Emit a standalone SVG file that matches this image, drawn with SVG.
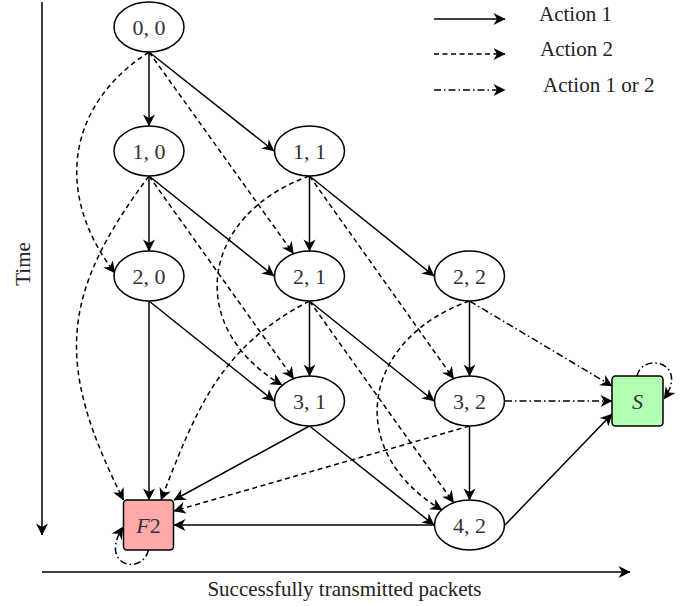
<svg xmlns="http://www.w3.org/2000/svg" width="699" height="606" viewBox="0 0 699 606">
<style>
.n{fill:#fff;stroke:#000;stroke-width:1.5}
.t{font-family:"Liberation Serif","Times New Roman",serif;font-size:22px;fill:#333;text-anchor:middle}
.lbl{font-family:"Liberation Serif","Times New Roman",serif;font-size:21px;fill:#222}
.e{fill:none;stroke:#000;stroke-width:1.5}
.d{stroke-dasharray:5,3.5}
.dd{stroke-dasharray:7,3,1.5,3}
.a{marker-end:url(#ah)}
</style>
<defs>
<marker id="ah" markerUnits="userSpaceOnUse" viewBox="-13 -7 15 14" refX="0" refY="0" markerWidth="15" markerHeight="14" orient="auto">
<path d="M0.5,0 L-11.5,-6 L-8,0 L-11.5,6 Z" fill="#000" stroke="none"/>
</marker>
</defs>
<rect width="699" height="606" fill="#fff"/>

<g id="axes">
<path class="e a" d="M42,2 L42,535"/>
<path class="e a" d="M42,572 L630,572"/>
<text class="lbl" text-anchor="middle" transform="translate(30,264) rotate(-90)">Time</text>
<text class="lbl" x="344.5" y="596" text-anchor="middle" font-size="21.5">Successfully transmitted packets</text>
</g>

<g id="legend">
<path class="e a" d="M434,19 L505,19"/>
<path class="e d a" d="M434,54 L505,54"/>
<path class="e dd a" d="M434,90 L505,90"/>
<text class="lbl" x="539" y="21">Action 1</text>
<text class="lbl" x="540" y="56">Action 2</text>
<text class="lbl" x="543" y="92">Action 1 or 2</text>
</g>

<g id="connectors">
<!-- Action 1 -->
<path class="e a" d="M149,52 L149,126"/>
<path class="e a" d="M149,52 L274,151"/>
<path class="e a" d="M149,176 L149,251"/>
<path class="e a" d="M149,176 L274,276"/>
<path class="e a" d="M309.5,176 L309.5,251"/>
<path class="e a" d="M309.5,176 L434,276"/>
<path class="e a" d="M149,301 L149,500"/>
<path class="e a" d="M149,301 L274,401"/>
<path class="e a" d="M309.5,301 L309.5,376"/>
<path class="e a" d="M309.5,301 L434,401"/>
<path class="e a" d="M469.5,301 L469.5,376"/>
<path class="e a" d="M309.5,426 L174,500"/>
<path class="e a" d="M309.5,426 L434,525"/>
<path class="e a" d="M469.5,426 L469.5,500"/>
<path class="e a" d="M434,525 L174,525"/>
<path class="e a" d="M505,525 L612,414"/>
<!-- Action 2 -->
<path class="e d a" d="M149,52 C65,106 55,196 115,273"/>
<path class="e d a" d="M149,52 L293.5,253.7"/>
<path class="e d a" d="M149,176 C59,296 55.5,365 123.5,500"/>
<path class="e d a" d="M149,176 L293.6,378.7"/>
<path class="e d a" d="M309.5,176 C201.4,214 183,326.4 282,385"/>
<path class="e d a" d="M309.5,176 L453.6,378.7"/>
<path class="e d a" d="M309.5,301 C220.5,347 197,407 161,500"/>
<path class="e d a" d="M309.5,301 L453.6,502.7"/>
<path class="e d a" d="M469.5,301 C361.4,339 343,451.4 442,510"/>
<path class="e d a" d="M469.5,426 L174,511"/>
<!-- Action 1 or 2 -->
<path class="e dd a" d="M469.5,301 L612,386"/>
<path class="e dd a" d="M505,401 L612,401"/>
<path class="e dd a" d="M637,376 C642,352 690,362 664,399"/>
<path class="e dd a" d="M148.5,550 C142,576 98,566 123,527"/>
</g>

<g id="n00"><ellipse class="n" cx="149" cy="27" rx="35" ry="25"/><text class="t" x="149" y="34.5">0, 0</text></g>
<g id="n10"><ellipse class="n" cx="149" cy="151" rx="35" ry="25"/><text class="t" x="149" y="158.5">1, 0</text></g>
<g id="n11"><ellipse class="n" cx="309.5" cy="151" rx="35" ry="25"/><text class="t" x="309.5" y="158.5">1, 1</text></g>
<g id="n20"><ellipse class="n" cx="149" cy="276" rx="35" ry="25"/><text class="t" x="149" y="283.5">2, 0</text></g>
<g id="n21"><ellipse class="n" cx="309.5" cy="276" rx="35" ry="25"/><text class="t" x="309.5" y="283.5">2, 1</text></g>
<g id="n22"><ellipse class="n" cx="469.5" cy="276" rx="35" ry="25"/><text class="t" x="469.5" y="283.5">2, 2</text></g>
<g id="n31"><ellipse class="n" cx="309.5" cy="401" rx="35" ry="25"/><text class="t" x="309.5" y="408.5">3, 1</text></g>
<g id="n32"><ellipse class="n" cx="469.5" cy="401" rx="35" ry="25"/><text class="t" x="469.5" y="408.5">3, 2</text></g>
<g id="n42"><ellipse class="n" cx="469.5" cy="525" rx="35" ry="25"/><text class="t" x="469.5" y="532.5">4, 2</text></g>
<g id="F2"><rect x="123.5" y="500" width="50" height="50" rx="3.5" fill="#ffaaaa" stroke="#000" stroke-width="1.5"/><text class="t" x="148.5" y="532.5"><tspan font-style="italic">F</tspan>2</text></g>
<g id="S"><rect x="612" y="376" width="51" height="50" rx="3.5" fill="#b3ffb3" stroke="#000" stroke-width="1.5"/><text class="t" x="637.5" y="408.5" font-style="italic">S</text></g>
</svg>
